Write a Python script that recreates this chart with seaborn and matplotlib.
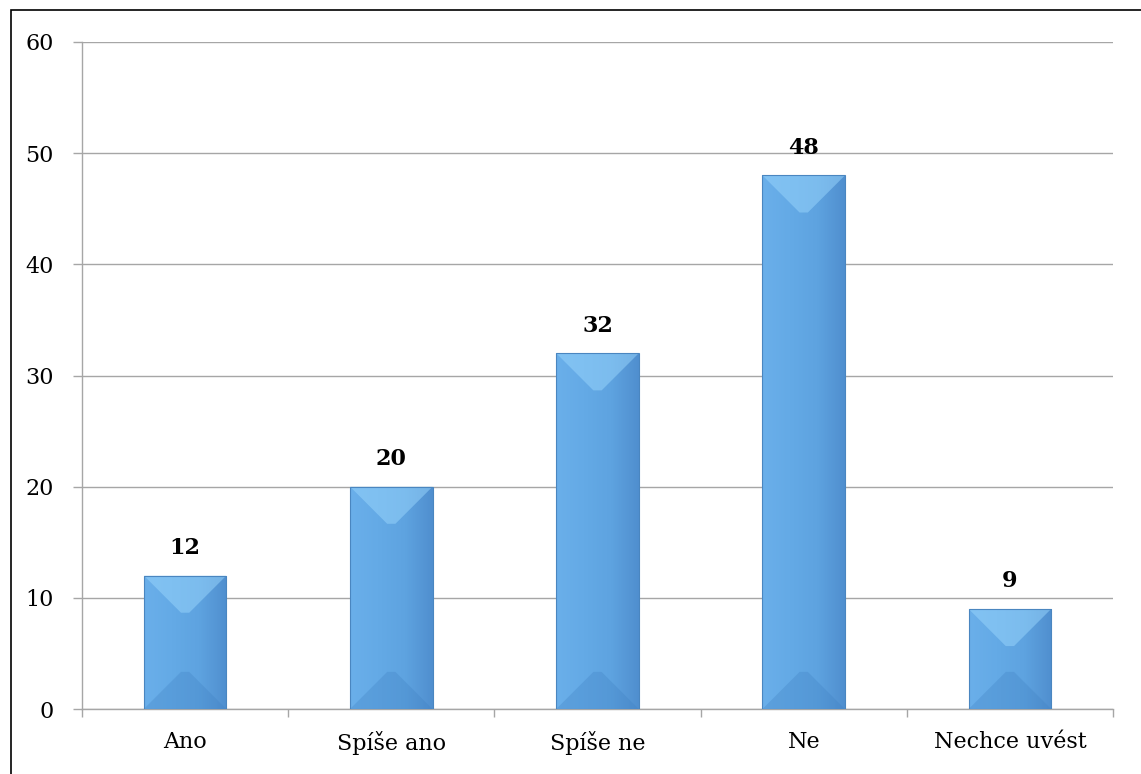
import numpy as np
import pandas as pd
import matplotlib
matplotlib.use("Agg")
import matplotlib.pyplot as plt
import seaborn as sns
from matplotlib.patches import Polygon, Rectangle

# data
kategorie = ["Ano", "Spíše ano", "Spíše ne", "Ne", "Nechce uvést"]
hodnoty = [12, 20, 32, 48, 9]

df = pd.DataFrame({"kategorie": kategorie, "hodnota": hodnoty})

sns.set_style("white")
plt.rcParams["font.family"] = ["DejaVu Serif"]
plt.rcParams["text.color"] = "black"
plt.rcParams["xtick.color"] = "black"
plt.rcParams["ytick.color"] = "black"

fig = plt.figure(figsize=(11.41, 7.74), dpi=100)
ax = fig.add_axes([82 / 1141, 1 - 709 / 774, (1113 - 82) / 1141, (709 - 42) / 774])

sns.barplot(data=df, x="kategorie", y="hodnota", color="#62a8e5", width=0.4,
            saturation=1, ax=ax, zorder=3)

ax.set_ylim(0, 60)
ax.set_xlim(-0.5, len(kategorie) - 0.5)
ax.set_yticks(range(0, 61, 10))
ax.yaxis.grid(True, color="#a6a6a6", linewidth=1, zorder=0)
ax.set_axisbelow(True)

for s in ["top", "right"]:
    ax.spines[s].set_visible(False)
for s in ["left", "bottom"]:
    ax.spines[s].set_color("#a6a6a6")
    ax.spines[s].set_linewidth(1)

ax.set_xlabel("")
ax.set_ylabel("")
ax.tick_params(axis="y", left=True, length=6.5, width=1, color="#a6a6a6",
               labelcolor="black", pad=14, labelsize=16)
ax.tick_params(axis="x", which="major", bottom=True, length=0, pad=16,
               labelcolor="black", labelsize=16)
ax.set_xticks(np.arange(-0.5, len(kategorie)), minor=True)
ax.tick_params(axis="x", which="minor", bottom=True, length=6, width=1,
               color="#a6a6a6")

# bevel look for bars
grad = np.linspace(0, 1, 100).reshape(1, -1)
cmap = matplotlib.colors.LinearSegmentedColormap.from_list(
    "bevel", ["#6aafea", "#64aae6", "#5ea3e0", "#508fcf"])
for bar in list(ax.patches):
    x0, y0 = bar.get_x(), bar.get_y()
    w, h = bar.get_width(), bar.get_height()
    bar.set_edgecolor("none")
    im = ax.imshow(grad, extent=[x0, x0 + w, y0, y0 + h], aspect="auto",
                   cmap=cmap, zorder=3.5)
    im.set_clip_path(bar)
    # bevel depth in pixels, converted to data units
    px_w = ax.transData.transform((w, 0))[0] - ax.transData.transform((0, 0))[0]
    px_per_unit = ax.transData.transform((0, 1))[1] - ax.transData.transform((0, 0))[1]
    d_px = min(0.45 * px_w, 0.5 * h * px_per_unit)
    d = d_px / px_per_unit
    dx = d_px / px_w * w
    top = Polygon([(x0, y0 + h), (x0 + w, y0 + h), (x0 + w - dx, y0 + h - d),
                   (x0 + dx, y0 + h - d)], closed=True, facecolor="#9ad6fc",
                  alpha=0.5, edgecolor="none", zorder=4)
    bot = Polygon([(x0, y0), (x0 + w, y0), (x0 + w - dx, y0 + d),
                   (x0 + dx, y0 + d)], closed=True, facecolor="#3f80c2",
                  alpha=0.3, edgecolor="none", zorder=4)
    ax.add_patch(top)
    ax.add_patch(bot)
    ax.add_patch(Rectangle((x0, y0), w, h, facecolor="none", edgecolor="#4a86c0",
                           linewidth=0.8, zorder=4.5))

    ax.annotate(f"{int(h)}", (x0 + w / 2, y0 + h), xytext=(0, 12),
                textcoords="offset points", ha="center", va="bottom",
                fontsize=16, fontweight="bold", color="black", zorder=5)

# outer frame of the chart
fig.patches.append(Rectangle((11 / 1141, -0.01), 1.02, 1 - 10 / 774 + 0.01,
                             transform=fig.transFigure, fill=False,
                             edgecolor="black", linewidth=1.2))

fig.savefig("out.png", dpi=100)
